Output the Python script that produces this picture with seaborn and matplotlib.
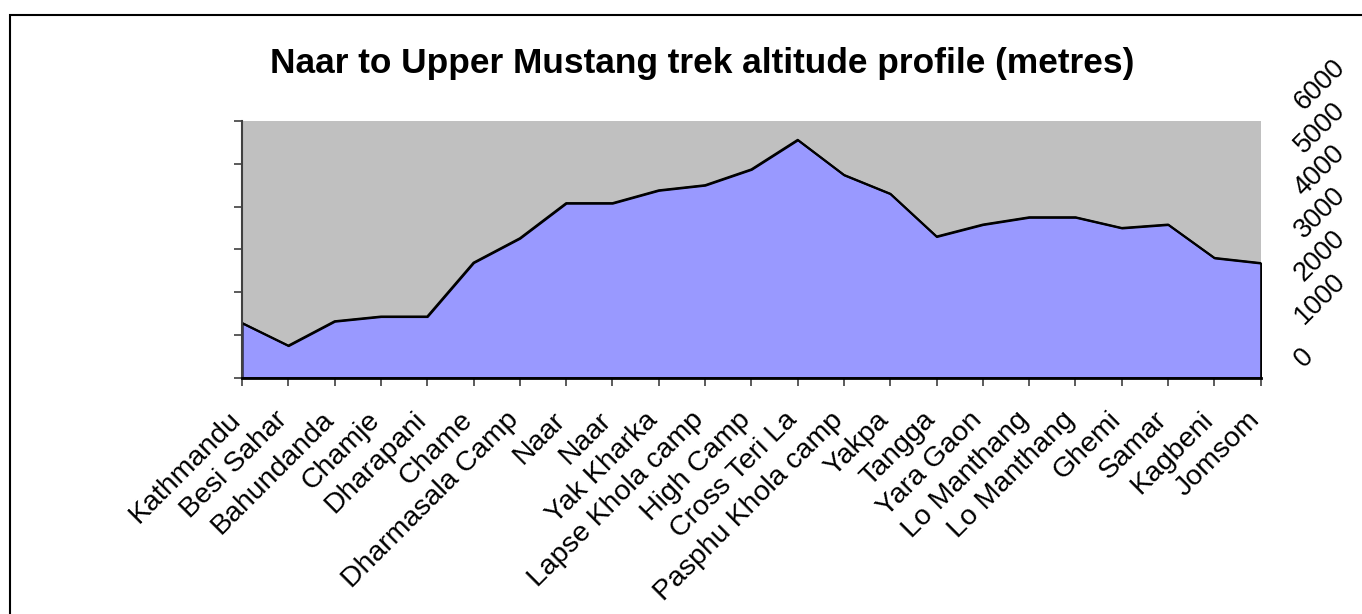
import matplotlib
matplotlib.use("Agg")
import matplotlib.pyplot as plt
import seaborn as sns
import pandas as pd
from matplotlib.transforms import ScaledTranslation
from matplotlib.patches import Rectangle

# ---- data ----
stops = ["Kathmandu", "Besi Sahar", "Bahundanda", "Chamje", "Dharapani", "Chame",
         "Dharmasala Camp", "Naar", "Naar", "Yak Kharka", "Lapse Khola camp",
         "High Camp", "Cross Teri La", "Pasphu Khola camp", "Yakpa", "Tangga",
         "Yara Gaon", "Lo Manthang", "Lo Manthang", "Ghemi", "Samar", "Kagbeni", "Jomsom"]
altitudes = [1280, 750, 1320, 1430, 1430, 2690, 3260, 4080, 4080, 4380, 4500,
             4870, 5560, 4740, 4300, 3300, 3580, 3750, 3750, 3500, 3580, 2800, 2680]
y_ticks = [0, 1000, 2000, 3000, 4000, 5000, 6000]
y_labels = ["0", "1000", "2000", "3000", "4000", "5000", "6000"]
title = "Naar to Upper Mustang trek altitude profile (metres)"

sns.set_theme(style="white")
plt.rcParams["font.family"] = ["Liberation Sans", "DejaVu Sans"]

W, H = 1362, 614
fig = plt.figure(figsize=(W / 100, H / 100), dpi=100)
fig.patch.set_facecolor("white")

left, right, top, bottom = 242, 1260.7, 121, 377.7
ax = fig.add_axes([left / W, 1 - bottom / H, (right - left) / W, (bottom - top) / H])

df = pd.DataFrame({"pos": range(len(stops)), "alt": altitudes})

ax.set_facecolor("#C0C0C0")
ax.fill_between(df["pos"], df["alt"], 0, facecolor="#9999FF", edgecolor="black", lw=1.5, zorder=1)
sns.lineplot(data=df, x="pos", y="alt", ax=ax, color="black", lw=1.5, zorder=2)

ax.set_xlim(0, len(stops) - 1)
ax.set_ylim(0, 6000)
ax.set_xlabel("")
ax.set_ylabel("")
ax.grid(False)

ax.set_xticks(df["pos"])
ax.set_xticklabels(stops, rotation=45, ha="right", va="baseline",
                   rotation_mode="anchor", fontsize=20.5, color="black")
ax.set_yticks(y_ticks)
ax.set_yticklabels([])
ax.tick_params(axis="x", direction="out", length=6, width=1.2, color="#404040",
               pad=(41 - 6) * 0.72, bottom=True)
ax.tick_params(axis="y", direction="out", length=6, width=1.2, color="#404040", left=True)

for s in ["top", "right"]:
    ax.spines[s].set_visible(False)
ax.spines["bottom"].set_color("black")
ax.spines["bottom"].set_linewidth(2)
ax.spines["left"].set_color("#404040")
ax.spines["left"].set_linewidth(1.5)
ax.spines["bottom"].set_zorder(3)

ax2 = ax.twinx()
ax2.set_ylim(0, 6000)
ax2.set_yticks(y_ticks)
ax2.set_yticklabels(y_labels, rotation=45, rotation_mode="anchor", ha="left",
                    va="baseline", fontsize=19.5, color="black")
ax2.tick_params(axis="y", length=0, pad=43 * 0.72)
ax2.grid(False)
for s in ax2.spines.values():
    s.set_visible(False)
for lbl in ax2.get_yticklabels():
    lbl.set_transform(lbl.get_transform() + ScaledTranslation(0, 10 / 100, fig.dpi_scale_trans))

fig.text(702 / W, 1 - 73 / H, title, ha="center", va="baseline",
         fontsize=25.4, fontweight="bold", color="black")

fig.patches.append(Rectangle((10 / W, -0.2), 1.5, (1 - 15 / H) + 0.2,
                             transform=fig.transFigure, fill=False,
                             edgecolor="black", lw=1.5, clip_on=False))

fig.savefig("out.png", dpi=100, facecolor="white")
